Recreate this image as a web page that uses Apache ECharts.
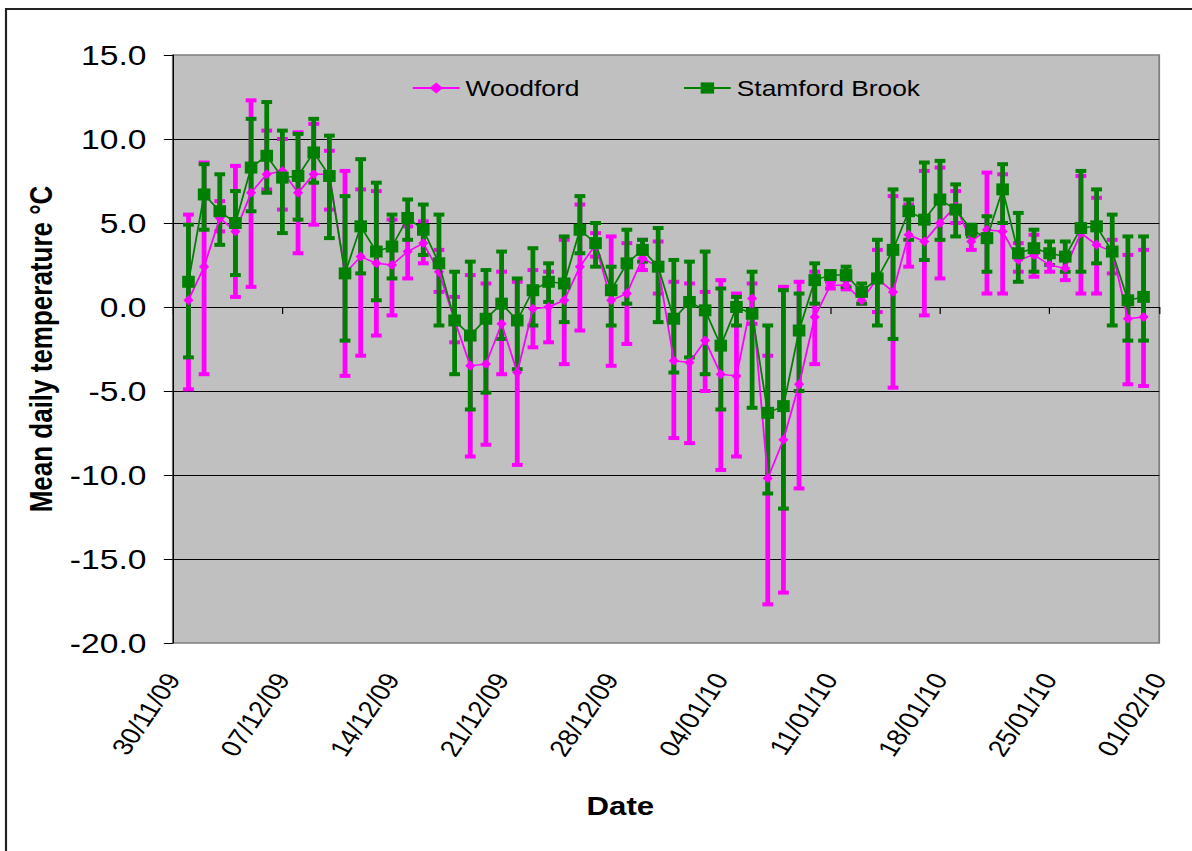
<!DOCTYPE html>
<html>
<head>
<meta charset="utf-8">
<script src="https://cdn.jsdelivr.net/npm/echarts@6/dist/echarts.min.js"></script>
<style>
  html, body { margin: 0; padding: 0; background: #fff; overflow: hidden; }
  #wrap { width: 1192px; height: 851px; overflow: hidden; position: relative; }
  /* the chart is laid out on a narrower canvas and widened 1.2x */
  #chart { width: 994px; height: 851px; transform: scaleX(1.2); transform-origin: 0 0; }
</style>
</head>
<body>
<div id="wrap"><div id="chart"></div></div>
<script>
// Daily mean temperatures, 1 Dec 2009 - 31 Jan 2010 (day 1 = 01/12/09)
const tickLabels = ['30/11/09', '07/12/09', '14/12/09', '21/12/09', '28/12/09',
                    '04/01/10', '11/01/10', '18/01/10', '25/01/10', '01/02/10'];

const woodfordMean = [0.4, 2.4, 5.3, 4.5, 6.8, 7.9, 8.1, 6.8, 7.9, 7.9,
  2.0, 3.0, 2.6, 2.5, 3.3, 3.8, 2.1, -0.8, -3.5, -3.4,
  -1.0, -3.9, -0.1, 0.0, 0.4, 2.4, 3.7, 0.4, 0.8, 2.9,
  2.4, -3.2, -3.3, -2.0, -4.0, -4.1, 0.5, -10.2, -7.9, -4.6,
  -0.6, 1.3, 1.3, 0.4, 1.7, 0.9, 4.3, 3.9, 5.0, 6.0,
  3.9, 4.6, 4.5, 2.8, 3.1, 2.5, 2.3, 4.4, 3.7, 3.3,
  -0.7, -0.6];
const woodfordHigh = [5.5, 8.6, 6.3, 8.4, 12.3, 10.5, 10.0, 10.4, 10.9, 9.3,
  8.1, 7.0, 6.9, 5.2, 4.8, 5.1, 3.4, 0.6, 1.9, 1.4,
  2.1, 1.5, 2.2, 2.1, 4.0, 6.1, 4.4, 4.2, 3.8, 4.0,
  3.9, 1.5, 1.4, 0.9, 1.6, 0.8, 1.4, -2.9, 1.2, 1.5,
  2.1, 1.5, 1.6, 0.9, 3.4, 6.6, 6.1, 8.1, 8.3, 6.9,
  4.7, 8.0, 7.9, 3.8, 4.3, 3.3, 3.2, 7.8, 6.5, 4.0,
  3.1, 3.4];
const woodfordLow = [-4.9, -4.0, 4.5, 0.6, 1.2, 7.0, 5.8, 3.2, 4.9, 5.8,
  -4.1, -2.9, -1.7, -0.5, 1.7, 2.6, 0.9, -2.1, -8.9, -8.2,
  -4.0, -9.4, -2.4, -2.1, -3.4, -1.4, 3.0, -3.5, -2.2, 2.2,
  0.8, -7.8, -8.1, -5.0, -9.7, -8.9, -1.0, -17.7, -17.0, -10.8,
  -3.4, 1.1, 1.05, 0.2, -0.3, -4.8, 2.4, -0.5, 1.7, 5.0,
  3.4, 0.8, 0.8, 2.1, 1.8, 2.1, 1.6, 0.8, 0.8, 2.0,
  -4.6, -4.7];

const stamfordMean = [1.5, 6.7, 5.7, 5.0, 8.3, 9.0, 7.7, 7.8, 9.2, 7.8,
  2.0, 4.8, 3.3, 3.6, 5.3, 4.6, 2.6, -0.8, -1.7, -0.7,
  0.2, -0.8, 1.0, 1.5, 1.4, 4.6, 3.8, 1.0, 2.6, 3.4,
  2.4, -0.7, 0.3, -0.2, -2.3, 0.0, -0.4, -6.3, -5.9, -1.4,
  1.6, 1.9, 1.9, 0.9, 1.7, 3.4, 5.7, 5.2, 6.4, 5.8,
  4.6, 4.1, 7.0, 3.2, 3.5, 3.2, 3.0, 4.7, 4.8, 3.3,
  0.4, 0.6];
const stamfordHigh = [4.9, 8.5, 7.9, 6.9, 11.2, 12.2, 10.5, 10.3, 11.2, 10.2,
  6.6, 8.8, 7.4, 5.5, 6.4, 6.1, 5.5, 2.1, 2.7, 2.2,
  3.3, 1.7, 3.5, 2.6, 4.2, 6.6, 5.0, 2.4, 4.6, 4.0,
  4.7, 2.8, 2.7, 3.3, 1.1, 0.6, 2.1, -1.1, 1.0, 0.8,
  2.6, 2.1, 2.4, 1.4, 4.0, 7.0, 6.4, 8.6, 8.7, 7.3,
  4.9, 5.4, 8.5, 5.6, 4.6, 3.9, 3.9, 8.1, 7.0, 5.5,
  4.2, 4.2];
const stamfordLow = [-3.0, 4.6, 3.7, 1.9, 5.7, 6.8, 4.4, 5.2, 7.4, 4.1,
  -2.0, 2.0, 0.4, 1.7, 4.0, 3.1, -1.1, -4.0, -6.1, -5.1,
  -1.9, -3.7, -1.1, 0.3, -0.9, 3.2, 2.4, -1.1, 0.2, 2.7,
  -0.9, -3.9, -3.0, -4.0, -6.1, -1.1, -6.0, -11.1, -12.0, -5.0,
  0.2, 1.7, 1.2, 0.2, -1.1, -1.9, 4.0, 2.8, 4.0, 4.2,
  4.2, 2.1, 5.0, 1.5, 2.1, 2.5, 2.1, 2.1, 2.6, -1.1,
  -2.0, -2.0];

const WOOD_COLOR = '#FF00FF';
const STAM_COLOR = '#008000';
const FONT = '"Liberation Sans", Arial, sans-serif';

// pair each value with its day number (days counted from 30/11/09)
const points = arr => arr.map((v, i) => [i + 1, v]);
const ranges = (hi, lo) => hi.map((h, i) => [i + 1, h, lo[i]]);

function errorBar(color) {
  return function (params, api) {
    const top = api.coord([api.value(0), api.value(1)]);
    const bot = api.coord([api.value(0), api.value(2)]);
    const half = 4.5;
    const st = { stroke: color, lineWidth: 4 };
    return {
      type: 'group',
      children: [
        { type: 'line', shape: { x1: top[0], y1: top[1], x2: bot[0], y2: bot[1] }, style: st },
        { type: 'line', shape: { x1: top[0] - half, y1: top[1], x2: top[0] + half, y2: top[1] }, style: st },
        { type: 'line', shape: { x1: bot[0] - half, y1: bot[1], x2: bot[0] + half, y2: bot[1] }, style: st }
      ]
    };
  };
}

const chart = echarts.init(document.getElementById('chart'), null, { renderer: 'svg' });

chart.setOption({
  animation: false,
  backgroundColor: '#ffffff',
  grid: {
    left: 144, right: 28, top: 55, bottom: 208,
    show: true, backgroundColor: '#C0C0C0', borderColor: '#808080', borderWidth: 1.5
  },
  legend: {
    data: ['Woodford', 'Stamford Brook'],
    left: 338, top: 72,
    itemWidth: 39, itemHeight: 14, itemGap: 86,
    textStyle: { fontFamily: FONT, fontSize: 22, color: '#000' }
  },
  xAxis: [
    {
      type: 'value', min: 0, max: 63, interval: 7,
      axisLine: { show: false, onZero: false },
      axisTick: { show: false },
      splitLine: { show: false },
      axisLabel: {
        rotate: 60, margin: 32, verticalAlign: 'middle',
        fontFamily: FONT, fontSize: 23.5, color: '#000',
        formatter: v => tickLabels[Math.round(v / 7)]
      }
    },
    {
      type: 'value', min: 0, max: 63, interval: 7, position: 'bottom',
      axisLine: { show: true, onZero: true, onZeroAxisIndex: 0, lineStyle: { color: '#000', width: 1 } },
      axisTick: { show: true, length: 7, lineStyle: { color: '#000' } },
      axisLabel: { show: false },
      splitLine: { show: false }
    }
  ],
  yAxis: {
    type: 'value', min: -20, max: 15, interval: 5,
    name: 'Mean daily temperature °C',
    nameLocation: 'middle', nameGap: 95,
    nameTextStyle: { fontFamily: FONT, fontSize: 26, fontWeight: 'bold', color: '#000' },
    axisLine: { show: true, lineStyle: { color: '#000', width: 1 } },
    axisTick: { show: true, length: 7.5, lineStyle: { color: '#000' } },
    axisLabel: {
      margin: 22, fontFamily: FONT, fontSize: 28, color: '#000',
      formatter: v => v.toFixed(1)
    },
    splitLine: { show: true, showMinLine: false, showMaxLine: false, lineStyle: { color: '#000', width: 1 } }
  },
  series: [
    {
      name: 'Woodford range', type: 'custom', z: 1,
      renderItem: errorBar(WOOD_COLOR),
      encode: { x: 0, y: [1, 2] },
      data: ranges(woodfordHigh, woodfordLow)
    },
    {
      name: 'Stamford Brook range', type: 'custom', z: 2,
      renderItem: errorBar(STAM_COLOR),
      encode: { x: 0, y: [1, 2] },
      data: ranges(stamfordHigh, stamfordLow)
    },
    {
      name: 'Woodford', type: 'line', z: 3,
      data: points(woodfordMean),
      symbol: 'diamond', symbolSize: [8.5, 10], showAllSymbol: true,
      lineStyle: { color: WOOD_COLOR, width: 1.5 },
      itemStyle: { color: WOOD_COLOR }
    },
    {
      name: 'Stamford Brook', type: 'line', z: 4,
      data: points(stamfordMean),
      symbol: 'rect', symbolSize: [10.5, 12], showAllSymbol: true,
      lineStyle: { color: STAM_COLOR, width: 1.5 },
      itemStyle: { color: STAM_COLOR }
    }
  ],
  graphic: [
    {
      type: 'rect', silent: true, z: 100,
      shape: { x: 5, y: 9, width: 1200, height: 1000 },
      style: { fill: 'none', stroke: '#222', lineWidth: 1.8 }
    },
    {
      type: 'text', x: 517, y: 806, silent: true,
      style: {
        text: 'Date', fontFamily: FONT, fontSize: 26, fontWeight: 'bold',
        fill: '#000', textAlign: 'center', textVerticalAlign: 'middle'
      }
    }
  ]
});
</script>
</body>
</html>
